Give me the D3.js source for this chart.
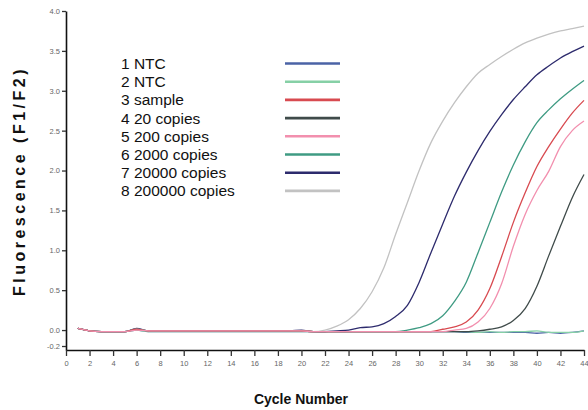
<!DOCTYPE html>
<html><head><meta charset="utf-8">
<script src="https://cdn.jsdelivr.net/npm/d3@7"></script>
<style>body{margin:0;background:#fff} svg{display:block}</style>
</head><body>
<svg id="c" width="588" height="410"></svg>
<script>
const cycles=[1,2,3,4,5,6,7,8,9,10,11,12,13,14,15,16,17,18,19,20,21,22,23,24,25,26,27,28,29,30,31,32,33,34,35,36,37,38,39,40,41,42,43,44];
const ntc1=[0.02,-0.01,-0.02,-0.02,-0.02,0.0,-0.02,-0.02,-0.02,-0.02,-0.02,-0.02,-0.02,-0.02,-0.02,-0.02,-0.02,-0.02,-0.02,-0.02,
 -0.02,-0.02,-0.02,-0.02,-0.02,-0.02,-0.02,-0.02,-0.02,-0.02,-0.02,-0.02,-0.02,-0.03,-0.03,-0.03,-0.03,-0.03,-0.03,-0.04,-0.03,-0.04,-0.03,-0.01];
const ntc2=[0.02,-0.01,-0.02,-0.02,-0.02,0.0,-0.02,-0.02,-0.02,-0.02,-0.02,-0.02,-0.02,-0.02,-0.02,-0.02,-0.02,-0.02,-0.02,-0.02,
 -0.02,-0.02,-0.02,-0.02,-0.02,-0.02,-0.02,-0.02,-0.02,-0.02,-0.02,-0.02,-0.02,-0.02,-0.03,-0.02,-0.03,-0.02,-0.02,-0.01,-0.03,-0.03,-0.03,-0.01];
const sample=[0.02,-0.01,-0.02,-0.02,-0.02,0.01,-0.01,-0.01,-0.01,-0.01,-0.01,-0.01,-0.01,-0.01,-0.01,-0.01,-0.01,-0.01,-0.01,-0.01,
 -0.02,-0.02,-0.02,-0.02,-0.02,-0.02,-0.02,-0.02,-0.02,-0.02,-0.02,0.01,0.04,0.1,0.25,0.52,0.92,1.35,1.72,2.05,2.3,2.52,2.72,2.88];
const copies20=[0.02,-0.01,-0.02,-0.02,-0.02,0.01,-0.01,-0.01,-0.01,-0.01,-0.01,-0.01,-0.01,-0.01,-0.01,-0.01,-0.01,-0.01,-0.01,-0.01,
 -0.02,-0.02,-0.02,-0.02,-0.02,-0.02,-0.02,-0.02,-0.02,-0.02,-0.02,-0.02,-0.02,-0.02,-0.01,0.01,0.04,0.12,0.27,0.55,0.93,1.3,1.66,1.95];
const copies200=[0.02,-0.01,-0.02,-0.02,-0.02,0.0,-0.01,-0.01,-0.01,-0.01,-0.01,-0.01,-0.01,-0.01,-0.01,-0.01,-0.01,-0.01,-0.01,-0.01,
 -0.02,-0.02,-0.02,-0.02,-0.02,-0.02,-0.02,-0.02,-0.02,-0.02,-0.02,-0.02,0.0,0.02,0.1,0.27,0.58,1.05,1.45,1.75,1.99,2.3,2.5,2.62];
const copies2000=[0.02,-0.01,-0.02,-0.02,-0.02,0.01,-0.01,-0.01,-0.01,-0.01,-0.01,-0.01,-0.01,-0.01,-0.01,-0.01,-0.01,-0.01,-0.01,-0.01,
 -0.02,-0.02,-0.02,-0.02,-0.02,-0.02,-0.02,-0.02,0.0,0.03,0.08,0.18,0.36,0.6,0.97,1.35,1.73,2.07,2.36,2.6,2.76,2.9,3.02,3.13];
const copies20000=[0.02,-0.01,-0.02,-0.02,-0.02,0.02,-0.01,-0.01,-0.01,-0.01,-0.01,-0.01,-0.01,-0.01,-0.01,-0.01,-0.01,-0.01,-0.01,0.0,
 -0.02,-0.02,-0.01,0.0,0.03,0.04,0.08,0.17,0.31,0.6,0.97,1.33,1.68,1.98,2.25,2.49,2.7,2.89,3.05,3.2,3.31,3.41,3.49,3.56];
const copies200000=[0.02,-0.01,-0.02,-0.02,-0.02,0.01,-0.01,-0.01,-0.01,-0.01,-0.01,-0.01,-0.01,-0.01,-0.01,-0.01,-0.01,-0.01,-0.01,-0.01,
 -0.02,0.0,0.05,0.13,0.27,0.48,0.78,1.2,1.6,2.0,2.35,2.62,2.85,3.05,3.22,3.33,3.43,3.52,3.6,3.66,3.71,3.75,3.78,3.81];
const seriesNames=["1 NTC","2 NTC","3 sample","4 20 copies","5 200 copies","6 2000 copies","7 20000 copies","8 200000 copies"];
const seriesValues=[ntc1,ntc2,sample,copies20,copies200,copies2000,copies20000,copies200000];
const seriesColors=["#4b63a6","#86d0a6","#d84a50","#3f4b4a","#f28fae","#3f9b83","#2d2b6d","#c2c2c2"];
const xTicks=[0,2,4,6,8,10,12,14,16,18,20,22,24,26,28,30,32,34,36,38,40,42,44];
const yTicks=[-0.2,0.0,0.5,1.0,1.5,2.0,2.5,3.0,3.5,4.0];

const svg=d3.select("#c");
const x=d3.scaleLinear().domain([0,44]).range([66,584]);
const y=d3.scaleLinear().domain([-0.25,4.0]).range([350,11]);

// axes
const ya=svg.append("g").attr("transform","translate(66,0)")
  .call(d3.axisLeft(y).tickValues(yTicks).tickFormat(d=>d.toFixed(1)).tickSize(4).tickSizeOuter(0).tickPadding(2));
const xa=svg.append("g").attr("transform","translate(0,350)")
  .call(d3.axisBottom(x).tickValues(xTicks).tickSize(6).tickSizeOuter(0).tickPadding(5));
[ya,xa].forEach(g=>{
  g.select(".domain").attr("stroke","#111").attr("stroke-width",1.6);
  g.selectAll(".tick line").attr("stroke","#333").attr("stroke-width",1.3);
  g.selectAll(".tick text").attr("fill","#666").style("font-family","Liberation Sans, Arial, sans-serif").style("font-size","7.5px");
});

// curves
const line=d3.line().x((d,i)=>x(cycles[i])).y(d=>y(d)).curve(d3.curveMonotoneX);
const order=[0,1,3,6,7,5,2,4];
order.forEach(k=>{
  svg.append("path").datum(seriesValues[k]).attr("d",line)
    .attr("fill","none").attr("stroke",seriesColors[k]).attr("stroke-width",1.3);
});

// legend
const lg=svg.append("g");
seriesNames.forEach((n,i)=>{
  const yy=63.5+i*18.2;
  lg.append("text").attr("x",121).attr("y",yy).attr("dy","0.35em").text(n)
    .style("font-family","Liberation Sans, Arial, sans-serif").style("font-size","15.5px").attr("fill","#111");
  lg.append("line").attr("x1",285).attr("x2",340).attr("y1",yy).attr("y2",yy)
    .attr("stroke",seriesColors[i]).attr("stroke-width",2.6);
});

// titles
svg.append("text").attr("transform","translate(25,181) rotate(-90)").attr("text-anchor","middle")
  .style("font-family","Liberation Sans, Arial, sans-serif").style("font-size","16px").style("font-weight","bold")
  .style("letter-spacing","3.5px").attr("fill","#111").text("Fluorescence (F1/F2)");
svg.append("text").attr("x",301).attr("y",404).attr("text-anchor","middle")
  .style("font-family","Liberation Sans, Arial, sans-serif").style("font-size","14px").style("font-weight","bold")
  .attr("fill","#111").text("Cycle Number");
</script>
</body></html>
